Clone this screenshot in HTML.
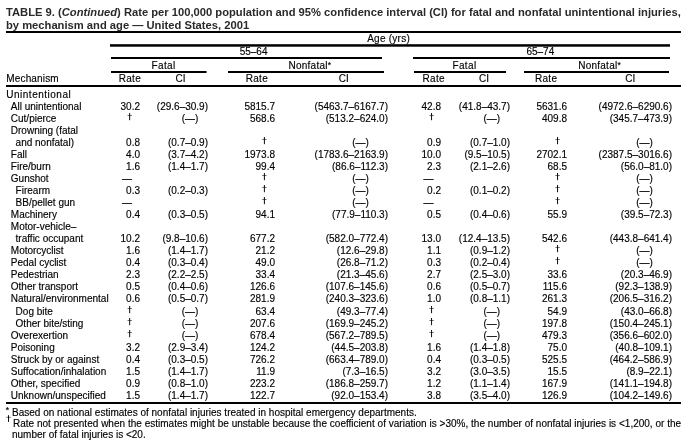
<!DOCTYPE html>
<html><head><meta charset="utf-8"><style>
html,body{margin:0;padding:0;background:#fff;}
body{width:695px;height:442px;position:relative;overflow:hidden;font-family:"Liberation Sans",sans-serif;color:#000;}
.t{position:absolute;white-space:nowrap;-webkit-text-stroke:0.15px #000;}
.b{font-weight:bold;-webkit-text-stroke:0;color:#2a2a2a;}
svg{position:absolute;left:0;top:0;}
</style></head><body>
<svg width="695" height="442" viewBox="0 0 695 442"><g fill="#000"><rect x="6" y="31" width="675" height="2"/><rect x="110" y="44.2" width="560" height="2.5"/><rect x="111" y="57" width="271" height="2"/><rect x="413" y="57" width="257" height="2"/><rect x="111" y="71" width="95.6" height="2"/><rect x="228" y="71" width="156" height="2"/><rect x="414" y="71" width="92" height="2"/><rect x="524" y="71" width="145" height="2"/><rect x="6" y="85" width="675" height="2"/><rect x="6" y="402" width="675" height="2"/><rect x="129.20" y="113.00" width="0.95" height="7.20"/><rect x="127.50" y="115.00" width="4.40" height="1" fill-opacity="0.55"/><rect x="431.10" y="113.00" width="0.95" height="7.20"/><rect x="429.40" y="115.00" width="4.40" height="1" fill-opacity="0.55"/><rect x="263.90" y="137.00" width="0.95" height="7.20"/><rect x="262.20" y="139.00" width="4.40" height="1" fill-opacity="0.55"/><rect x="557.10" y="137.00" width="0.95" height="7.20"/><rect x="555.40" y="139.00" width="4.40" height="1" fill-opacity="0.55"/><rect x="263.90" y="173.00" width="0.95" height="7.20"/><rect x="262.20" y="175.00" width="4.40" height="1" fill-opacity="0.55"/><rect x="557.10" y="173.00" width="0.95" height="7.20"/><rect x="555.40" y="175.00" width="4.40" height="1" fill-opacity="0.55"/><rect x="263.90" y="185.00" width="0.95" height="7.20"/><rect x="262.20" y="187.00" width="4.40" height="1" fill-opacity="0.55"/><rect x="557.10" y="185.00" width="0.95" height="7.20"/><rect x="555.40" y="187.00" width="4.40" height="1" fill-opacity="0.55"/><rect x="263.90" y="197.00" width="0.95" height="7.20"/><rect x="262.20" y="199.00" width="4.40" height="1" fill-opacity="0.55"/><rect x="557.10" y="197.00" width="0.95" height="7.20"/><rect x="555.40" y="199.00" width="4.40" height="1" fill-opacity="0.55"/><rect x="557.10" y="245.00" width="0.95" height="7.20"/><rect x="555.40" y="247.00" width="4.40" height="1" fill-opacity="0.55"/><rect x="557.10" y="257.00" width="0.95" height="7.20"/><rect x="555.40" y="259.00" width="4.40" height="1" fill-opacity="0.55"/><rect x="129.20" y="306.00" width="0.95" height="7.20"/><rect x="127.50" y="308.00" width="4.40" height="1" fill-opacity="0.55"/><rect x="431.10" y="306.00" width="0.95" height="7.20"/><rect x="429.40" y="308.00" width="4.40" height="1" fill-opacity="0.55"/><rect x="129.20" y="318.00" width="0.95" height="7.20"/><rect x="127.50" y="320.00" width="4.40" height="1" fill-opacity="0.55"/><rect x="431.10" y="318.00" width="0.95" height="7.20"/><rect x="429.40" y="320.00" width="4.40" height="1" fill-opacity="0.55"/><rect x="129.20" y="330.00" width="0.95" height="7.20"/><rect x="127.50" y="332.00" width="4.40" height="1" fill-opacity="0.55"/><rect x="431.10" y="330.00" width="0.95" height="7.20"/><rect x="429.40" y="332.00" width="4.40" height="1" fill-opacity="0.55"/><rect x="8.00" y="415.20" width="0.95" height="6.70"/><rect x="6.20" y="416.80" width="4.60" height="1" fill-opacity="0.55"/></g></svg>
<div id="L" style="position:absolute;left:0;top:0;width:695px;height:442px;will-change:transform">
<div class="t b" style="left:6px;top:6.52px;font-size:11.2px;line-height:11.2px">TABLE 9. (<i>Continued</i>) Rate per 100,000 population and 95% confidence interval (CI) for fatal and nonfatal unintentional injuries,</div>
<div class="t b" style="left:6px;top:19.52px;font-size:11.2px;line-height:11.2px">by mechanism and age — United States, 2001</div>
<div class="t" style="left:388.60px;transform:translateX(-50%);top:33.53px;font-size:10px;line-height:10px;letter-spacing:0.25px;">Age (yrs)</div>
<div class="t" style="left:253.60px;transform:translateX(-50%);top:46.53px;font-size:10px;line-height:10px;">55–64</div>
<div class="t" style="left:540.30px;transform:translateX(-50%);top:46.53px;font-size:10px;line-height:10px;">65–74</div>
<div class="t" style="left:163.60px;transform:translateX(-50%);top:60.53px;font-size:10px;line-height:10px;letter-spacing:0.4px;">Fatal</div>
<div class="t" style="left:309.90px;transform:translateX(-50%);top:60.53px;font-size:10px;line-height:10px;letter-spacing:0.25px;">Nonfatal<span style="font-size:8.5px;position:relative;top:-1px">*</span></div>
<div class="t" style="left:464.50px;transform:translateX(-50%);top:60.53px;font-size:10px;line-height:10px;letter-spacing:0.4px;">Fatal</div>
<div class="t" style="left:599.60px;transform:translateX(-50%);top:60.53px;font-size:10px;line-height:10px;letter-spacing:0.25px;">Nonfatal<span style="font-size:8.5px;position:relative;top:-1px">*</span></div>
<div class="t" style="left:6.30px;top:73.53px;font-size:10px;line-height:10px;letter-spacing:0.15px;">Mechanism</div>
<div class="t" style="left:129.90px;transform:translateX(-50%);top:73.53px;font-size:10px;line-height:10px;letter-spacing:0.3px;">Rate</div>
<div class="t" style="left:180.60px;transform:translateX(-50%);top:73.53px;font-size:10px;line-height:10px;">CI</div>
<div class="t" style="left:256.90px;transform:translateX(-50%);top:73.53px;font-size:10px;line-height:10px;letter-spacing:0.3px;">Rate</div>
<div class="t" style="left:343.80px;transform:translateX(-50%);top:73.53px;font-size:10px;line-height:10px;">CI</div>
<div class="t" style="left:433.70px;transform:translateX(-50%);top:73.53px;font-size:10px;line-height:10px;letter-spacing:0.3px;">Rate</div>
<div class="t" style="left:484.00px;transform:translateX(-50%);top:73.53px;font-size:10px;line-height:10px;">CI</div>
<div class="t" style="left:546.10px;transform:translateX(-50%);top:73.53px;font-size:10px;line-height:10px;letter-spacing:0.3px;">Rate</div>
<div class="t" style="left:630.20px;transform:translateX(-50%);top:73.53px;font-size:10px;line-height:10px;">CI</div>
<div class="t" style="left:6.30px;top:89.83px;font-size:10px;line-height:10px;letter-spacing:0.5px;">Unintentional</div>
<div class="t" style="left:10.80px;top:101.83px;font-size:10px;line-height:10px;">All unintentional</div>
<div class="t" style="right:555.00px;top:101.83px;font-size:10px;line-height:10px;">30.2</div>
<div class="t" style="right:487.00px;top:101.83px;font-size:10px;line-height:10px;">(29.6–30.9)</div>
<div class="t" style="right:420.00px;top:101.83px;font-size:10px;line-height:10px;">5815.7</div>
<div class="t" style="right:307.00px;top:101.83px;font-size:10px;line-height:10px;">(5463.7–6167.7)</div>
<div class="t" style="right:254.00px;top:101.83px;font-size:10px;line-height:10px;">42.8</div>
<div class="t" style="right:185.00px;top:101.83px;font-size:10px;line-height:10px;">(41.8–43.7)</div>
<div class="t" style="right:128.00px;top:101.83px;font-size:10px;line-height:10px;">5631.6</div>
<div class="t" style="right:23.00px;top:101.83px;font-size:10px;line-height:10px;">(4972.6–6290.6)</div>
<div class="t" style="left:10.80px;top:113.83px;font-size:10px;line-height:10px;">Cut/pierce</div>
<div class="t" style="left:190.00px;transform:translateX(-50%);top:113.83px;font-size:10px;line-height:10px;">(—)</div>
<div class="t" style="right:420.00px;top:113.83px;font-size:10px;line-height:10px;">568.6</div>
<div class="t" style="right:307.00px;top:113.83px;font-size:10px;line-height:10px;">(513.2–624.0)</div>
<div class="t" style="left:491.80px;transform:translateX(-50%);top:113.83px;font-size:10px;line-height:10px;">(—)</div>
<div class="t" style="right:128.00px;top:113.83px;font-size:10px;line-height:10px;">409.8</div>
<div class="t" style="right:23.00px;top:113.83px;font-size:10px;line-height:10px;">(345.7–473.9)</div>
<div class="t" style="left:10.80px;top:125.84px;font-size:10px;line-height:10px;">Drowning (fatal</div>
<div class="t" style="left:15.60px;top:137.84px;font-size:10px;line-height:10px;">and nonfatal)</div>
<div class="t" style="right:555.00px;top:137.84px;font-size:10px;line-height:10px;">0.8</div>
<div class="t" style="right:487.00px;top:137.84px;font-size:10px;line-height:10px;">(0.7–0.9)</div>
<div class="t" style="left:360.50px;transform:translateX(-50%);top:137.84px;font-size:10px;line-height:10px;">(—)</div>
<div class="t" style="right:254.00px;top:137.84px;font-size:10px;line-height:10px;">0.9</div>
<div class="t" style="right:185.00px;top:137.84px;font-size:10px;line-height:10px;">(0.7–1.0)</div>
<div class="t" style="left:644.50px;transform:translateX(-50%);top:137.84px;font-size:10px;line-height:10px;">(—)</div>
<div class="t" style="left:10.80px;top:149.84px;font-size:10px;line-height:10px;">Fall</div>
<div class="t" style="right:555.00px;top:149.84px;font-size:10px;line-height:10px;">4.0</div>
<div class="t" style="right:487.00px;top:149.84px;font-size:10px;line-height:10px;">(3.7–4.2)</div>
<div class="t" style="right:420.00px;top:149.84px;font-size:10px;line-height:10px;">1973.8</div>
<div class="t" style="right:307.00px;top:149.84px;font-size:10px;line-height:10px;">(1783.6–2163.9)</div>
<div class="t" style="right:254.00px;top:149.84px;font-size:10px;line-height:10px;">10.0</div>
<div class="t" style="right:185.00px;top:149.84px;font-size:10px;line-height:10px;">(9.5–10.5)</div>
<div class="t" style="right:128.00px;top:149.84px;font-size:10px;line-height:10px;">2702.1</div>
<div class="t" style="right:23.00px;top:149.84px;font-size:10px;line-height:10px;">(2387.5–3016.6)</div>
<div class="t" style="left:10.80px;top:161.84px;font-size:10px;line-height:10px;">Fire/burn</div>
<div class="t" style="right:555.00px;top:161.84px;font-size:10px;line-height:10px;">1.6</div>
<div class="t" style="right:487.00px;top:161.84px;font-size:10px;line-height:10px;">(1.4–1.7)</div>
<div class="t" style="right:420.00px;top:161.84px;font-size:10px;line-height:10px;">99.4</div>
<div class="t" style="right:307.00px;top:161.84px;font-size:10px;line-height:10px;">(86.6–112.3)</div>
<div class="t" style="right:254.00px;top:161.84px;font-size:10px;line-height:10px;">2.3</div>
<div class="t" style="right:185.00px;top:161.84px;font-size:10px;line-height:10px;">(2.1–2.6)</div>
<div class="t" style="right:128.00px;top:161.84px;font-size:10px;line-height:10px;">68.5</div>
<div class="t" style="right:23.00px;top:161.84px;font-size:10px;line-height:10px;">(56.0–81.0)</div>
<div class="t" style="left:10.80px;top:173.84px;font-size:10px;line-height:10px;">Gunshot</div>
<div class="t" style="left:127.00px;transform:translateX(-50%);top:173.84px;font-size:10px;line-height:10px;">—</div>
<div class="t" style="left:360.50px;transform:translateX(-50%);top:173.84px;font-size:10px;line-height:10px;">(—)</div>
<div class="t" style="left:428.50px;transform:translateX(-50%);top:173.84px;font-size:10px;line-height:10px;">—</div>
<div class="t" style="left:644.50px;transform:translateX(-50%);top:173.84px;font-size:10px;line-height:10px;">(—)</div>
<div class="t" style="left:15.60px;top:185.84px;font-size:10px;line-height:10px;">Firearm</div>
<div class="t" style="right:555.00px;top:185.84px;font-size:10px;line-height:10px;">0.3</div>
<div class="t" style="right:487.00px;top:185.84px;font-size:10px;line-height:10px;">(0.2–0.3)</div>
<div class="t" style="left:360.50px;transform:translateX(-50%);top:185.84px;font-size:10px;line-height:10px;">(—)</div>
<div class="t" style="right:254.00px;top:185.84px;font-size:10px;line-height:10px;">0.2</div>
<div class="t" style="right:185.00px;top:185.84px;font-size:10px;line-height:10px;">(0.1–0.2)</div>
<div class="t" style="left:644.50px;transform:translateX(-50%);top:185.84px;font-size:10px;line-height:10px;">(—)</div>
<div class="t" style="left:15.60px;top:197.84px;font-size:10px;line-height:10px;">BB/pellet gun</div>
<div class="t" style="left:127.00px;transform:translateX(-50%);top:197.84px;font-size:10px;line-height:10px;">—</div>
<div class="t" style="left:360.50px;transform:translateX(-50%);top:197.84px;font-size:10px;line-height:10px;">(—)</div>
<div class="t" style="left:428.50px;transform:translateX(-50%);top:197.84px;font-size:10px;line-height:10px;">—</div>
<div class="t" style="left:644.50px;transform:translateX(-50%);top:197.84px;font-size:10px;line-height:10px;">(—)</div>
<div class="t" style="left:10.80px;top:209.84px;font-size:10px;line-height:10px;">Machinery</div>
<div class="t" style="right:555.00px;top:209.84px;font-size:10px;line-height:10px;">0.4</div>
<div class="t" style="right:487.00px;top:209.84px;font-size:10px;line-height:10px;">(0.3–0.5)</div>
<div class="t" style="right:420.00px;top:209.84px;font-size:10px;line-height:10px;">94.1</div>
<div class="t" style="right:307.00px;top:209.84px;font-size:10px;line-height:10px;">(77.9–110.3)</div>
<div class="t" style="right:254.00px;top:209.84px;font-size:10px;line-height:10px;">0.5</div>
<div class="t" style="right:185.00px;top:209.84px;font-size:10px;line-height:10px;">(0.4–0.6)</div>
<div class="t" style="right:128.00px;top:209.84px;font-size:10px;line-height:10px;">55.9</div>
<div class="t" style="right:23.00px;top:209.84px;font-size:10px;line-height:10px;">(39.5–72.3)</div>
<div class="t" style="left:10.80px;top:221.84px;font-size:10px;line-height:10px;">Motor-vehicle–</div>
<div class="t" style="left:15.60px;top:233.84px;font-size:10px;line-height:10px;">traffic occupant</div>
<div class="t" style="right:555.00px;top:233.84px;font-size:10px;line-height:10px;">10.2</div>
<div class="t" style="right:487.00px;top:233.84px;font-size:10px;line-height:10px;">(9.8–10.6)</div>
<div class="t" style="right:420.00px;top:233.84px;font-size:10px;line-height:10px;">677.2</div>
<div class="t" style="right:307.00px;top:233.84px;font-size:10px;line-height:10px;">(582.0–772.4)</div>
<div class="t" style="right:254.00px;top:233.84px;font-size:10px;line-height:10px;">13.0</div>
<div class="t" style="right:185.00px;top:233.84px;font-size:10px;line-height:10px;">(12.4–13.5)</div>
<div class="t" style="right:128.00px;top:233.84px;font-size:10px;line-height:10px;">542.6</div>
<div class="t" style="right:23.00px;top:233.84px;font-size:10px;line-height:10px;">(443.8–641.4)</div>
<div class="t" style="left:10.80px;top:245.84px;font-size:10px;line-height:10px;">Motorcyclist</div>
<div class="t" style="right:555.00px;top:245.84px;font-size:10px;line-height:10px;">1.6</div>
<div class="t" style="right:487.00px;top:245.84px;font-size:10px;line-height:10px;">(1.4–1.7)</div>
<div class="t" style="right:420.00px;top:245.84px;font-size:10px;line-height:10px;">21.2</div>
<div class="t" style="right:307.00px;top:245.84px;font-size:10px;line-height:10px;">(12.6–29.8)</div>
<div class="t" style="right:254.00px;top:245.84px;font-size:10px;line-height:10px;">1.1</div>
<div class="t" style="right:185.00px;top:245.84px;font-size:10px;line-height:10px;">(0.9–1.2)</div>
<div class="t" style="left:644.50px;transform:translateX(-50%);top:245.84px;font-size:10px;line-height:10px;">(—)</div>
<div class="t" style="left:10.80px;top:257.84px;font-size:10px;line-height:10px;">Pedal cyclist</div>
<div class="t" style="right:555.00px;top:257.84px;font-size:10px;line-height:10px;">0.4</div>
<div class="t" style="right:487.00px;top:257.84px;font-size:10px;line-height:10px;">(0.3–0.4)</div>
<div class="t" style="right:420.00px;top:257.84px;font-size:10px;line-height:10px;">49.0</div>
<div class="t" style="right:307.00px;top:257.84px;font-size:10px;line-height:10px;">(26.8–71.2)</div>
<div class="t" style="right:254.00px;top:257.84px;font-size:10px;line-height:10px;">0.3</div>
<div class="t" style="right:185.00px;top:257.84px;font-size:10px;line-height:10px;">(0.2–0.4)</div>
<div class="t" style="left:644.50px;transform:translateX(-50%);top:257.84px;font-size:10px;line-height:10px;">(—)</div>
<div class="t" style="left:10.80px;top:269.84px;font-size:10px;line-height:10px;">Pedestrian</div>
<div class="t" style="right:555.00px;top:269.84px;font-size:10px;line-height:10px;">2.3</div>
<div class="t" style="right:487.00px;top:269.84px;font-size:10px;line-height:10px;">(2.2–2.5)</div>
<div class="t" style="right:420.00px;top:269.84px;font-size:10px;line-height:10px;">33.4</div>
<div class="t" style="right:307.00px;top:269.84px;font-size:10px;line-height:10px;">(21.3–45.6)</div>
<div class="t" style="right:254.00px;top:269.84px;font-size:10px;line-height:10px;">2.7</div>
<div class="t" style="right:185.00px;top:269.84px;font-size:10px;line-height:10px;">(2.5–3.0)</div>
<div class="t" style="right:128.00px;top:269.84px;font-size:10px;line-height:10px;">33.6</div>
<div class="t" style="right:23.00px;top:269.84px;font-size:10px;line-height:10px;">(20.3–46.9)</div>
<div class="t" style="left:10.80px;top:281.84px;font-size:10px;line-height:10px;">Other transport</div>
<div class="t" style="right:555.00px;top:281.84px;font-size:10px;line-height:10px;">0.5</div>
<div class="t" style="right:487.00px;top:281.84px;font-size:10px;line-height:10px;">(0.4–0.6)</div>
<div class="t" style="right:420.00px;top:281.84px;font-size:10px;line-height:10px;">126.6</div>
<div class="t" style="right:307.00px;top:281.84px;font-size:10px;line-height:10px;">(107.6–145.6)</div>
<div class="t" style="right:254.00px;top:281.84px;font-size:10px;line-height:10px;">0.6</div>
<div class="t" style="right:185.00px;top:281.84px;font-size:10px;line-height:10px;">(0.5–0.7)</div>
<div class="t" style="right:128.00px;top:281.84px;font-size:10px;line-height:10px;">115.6</div>
<div class="t" style="right:23.00px;top:281.84px;font-size:10px;line-height:10px;">(92.3–138.9)</div>
<div class="t" style="left:10.80px;top:293.84px;font-size:10px;line-height:10px;">Natural/environmental</div>
<div class="t" style="right:555.00px;top:293.84px;font-size:10px;line-height:10px;">0.6</div>
<div class="t" style="right:487.00px;top:293.84px;font-size:10px;line-height:10px;">(0.5–0.7)</div>
<div class="t" style="right:420.00px;top:293.84px;font-size:10px;line-height:10px;">281.9</div>
<div class="t" style="right:307.00px;top:293.84px;font-size:10px;line-height:10px;">(240.3–323.6)</div>
<div class="t" style="right:254.00px;top:293.84px;font-size:10px;line-height:10px;">1.0</div>
<div class="t" style="right:185.00px;top:293.84px;font-size:10px;line-height:10px;">(0.8–1.1)</div>
<div class="t" style="right:128.00px;top:293.84px;font-size:10px;line-height:10px;">261.3</div>
<div class="t" style="right:23.00px;top:293.84px;font-size:10px;line-height:10px;">(206.5–316.2)</div>
<div class="t" style="left:15.60px;top:306.84px;font-size:10px;line-height:10px;">Dog bite</div>
<div class="t" style="left:190.00px;transform:translateX(-50%);top:306.84px;font-size:10px;line-height:10px;">(—)</div>
<div class="t" style="right:420.00px;top:306.84px;font-size:10px;line-height:10px;">63.4</div>
<div class="t" style="right:307.00px;top:306.84px;font-size:10px;line-height:10px;">(49.3–77.4)</div>
<div class="t" style="left:491.80px;transform:translateX(-50%);top:306.84px;font-size:10px;line-height:10px;">(—)</div>
<div class="t" style="right:128.00px;top:306.84px;font-size:10px;line-height:10px;">54.9</div>
<div class="t" style="right:23.00px;top:306.84px;font-size:10px;line-height:10px;">(43.0–66.8)</div>
<div class="t" style="left:15.60px;top:318.84px;font-size:10px;line-height:10px;">Other bite/sting</div>
<div class="t" style="left:190.00px;transform:translateX(-50%);top:318.84px;font-size:10px;line-height:10px;">(—)</div>
<div class="t" style="right:420.00px;top:318.84px;font-size:10px;line-height:10px;">207.6</div>
<div class="t" style="right:307.00px;top:318.84px;font-size:10px;line-height:10px;">(169.9–245.2)</div>
<div class="t" style="left:491.80px;transform:translateX(-50%);top:318.84px;font-size:10px;line-height:10px;">(—)</div>
<div class="t" style="right:128.00px;top:318.84px;font-size:10px;line-height:10px;">197.8</div>
<div class="t" style="right:23.00px;top:318.84px;font-size:10px;line-height:10px;">(150.4–245.1)</div>
<div class="t" style="left:10.80px;top:330.84px;font-size:10px;line-height:10px;">Overexertion</div>
<div class="t" style="left:190.00px;transform:translateX(-50%);top:330.84px;font-size:10px;line-height:10px;">(—)</div>
<div class="t" style="right:420.00px;top:330.84px;font-size:10px;line-height:10px;">678.4</div>
<div class="t" style="right:307.00px;top:330.84px;font-size:10px;line-height:10px;">(567.2–789.5)</div>
<div class="t" style="left:491.80px;transform:translateX(-50%);top:330.84px;font-size:10px;line-height:10px;">(—)</div>
<div class="t" style="right:128.00px;top:330.84px;font-size:10px;line-height:10px;">479.3</div>
<div class="t" style="right:23.00px;top:330.84px;font-size:10px;line-height:10px;">(356.6–602.0)</div>
<div class="t" style="left:10.80px;top:342.84px;font-size:10px;line-height:10px;">Poisoning</div>
<div class="t" style="right:555.00px;top:342.84px;font-size:10px;line-height:10px;">3.2</div>
<div class="t" style="right:487.00px;top:342.84px;font-size:10px;line-height:10px;">(2.9–3.4)</div>
<div class="t" style="right:420.00px;top:342.84px;font-size:10px;line-height:10px;">124.2</div>
<div class="t" style="right:307.00px;top:342.84px;font-size:10px;line-height:10px;">(44.5–203.8)</div>
<div class="t" style="right:254.00px;top:342.84px;font-size:10px;line-height:10px;">1.6</div>
<div class="t" style="right:185.00px;top:342.84px;font-size:10px;line-height:10px;">(1.4–1.8)</div>
<div class="t" style="right:128.00px;top:342.84px;font-size:10px;line-height:10px;">75.0</div>
<div class="t" style="right:23.00px;top:342.84px;font-size:10px;line-height:10px;">(40.8–109.1)</div>
<div class="t" style="left:10.80px;top:354.84px;font-size:10px;line-height:10px;">Struck by or against</div>
<div class="t" style="right:555.00px;top:354.84px;font-size:10px;line-height:10px;">0.4</div>
<div class="t" style="right:487.00px;top:354.84px;font-size:10px;line-height:10px;">(0.3–0.5)</div>
<div class="t" style="right:420.00px;top:354.84px;font-size:10px;line-height:10px;">726.2</div>
<div class="t" style="right:307.00px;top:354.84px;font-size:10px;line-height:10px;">(663.4–789.0)</div>
<div class="t" style="right:254.00px;top:354.84px;font-size:10px;line-height:10px;">0.4</div>
<div class="t" style="right:185.00px;top:354.84px;font-size:10px;line-height:10px;">(0.3–0.5)</div>
<div class="t" style="right:128.00px;top:354.84px;font-size:10px;line-height:10px;">525.5</div>
<div class="t" style="right:23.00px;top:354.84px;font-size:10px;line-height:10px;">(464.2–586.9)</div>
<div class="t" style="left:10.80px;top:366.84px;font-size:10px;line-height:10px;">Suffocation/inhalation</div>
<div class="t" style="right:555.00px;top:366.84px;font-size:10px;line-height:10px;">1.5</div>
<div class="t" style="right:487.00px;top:366.84px;font-size:10px;line-height:10px;">(1.4–1.7)</div>
<div class="t" style="right:420.00px;top:366.84px;font-size:10px;line-height:10px;">11.9</div>
<div class="t" style="right:307.00px;top:366.84px;font-size:10px;line-height:10px;">(7.3–16.5)</div>
<div class="t" style="right:254.00px;top:366.84px;font-size:10px;line-height:10px;">3.2</div>
<div class="t" style="right:185.00px;top:366.84px;font-size:10px;line-height:10px;">(3.0–3.5)</div>
<div class="t" style="right:128.00px;top:366.84px;font-size:10px;line-height:10px;">15.5</div>
<div class="t" style="right:23.00px;top:366.84px;font-size:10px;line-height:10px;">(8.9–22.1)</div>
<div class="t" style="left:10.80px;top:378.84px;font-size:10px;line-height:10px;">Other, specified</div>
<div class="t" style="right:555.00px;top:378.84px;font-size:10px;line-height:10px;">0.9</div>
<div class="t" style="right:487.00px;top:378.84px;font-size:10px;line-height:10px;">(0.8–1.0)</div>
<div class="t" style="right:420.00px;top:378.84px;font-size:10px;line-height:10px;">223.2</div>
<div class="t" style="right:307.00px;top:378.84px;font-size:10px;line-height:10px;">(186.8–259.7)</div>
<div class="t" style="right:254.00px;top:378.84px;font-size:10px;line-height:10px;">1.2</div>
<div class="t" style="right:185.00px;top:378.84px;font-size:10px;line-height:10px;">(1.1–1.4)</div>
<div class="t" style="right:128.00px;top:378.84px;font-size:10px;line-height:10px;">167.9</div>
<div class="t" style="right:23.00px;top:378.84px;font-size:10px;line-height:10px;">(141.1–194.8)</div>
<div class="t" style="left:10.80px;top:390.84px;font-size:10px;line-height:10px;">Unknown/unspecified</div>
<div class="t" style="right:555.00px;top:390.84px;font-size:10px;line-height:10px;">1.5</div>
<div class="t" style="right:487.00px;top:390.84px;font-size:10px;line-height:10px;">(1.4–1.7)</div>
<div class="t" style="right:420.00px;top:390.84px;font-size:10px;line-height:10px;">122.7</div>
<div class="t" style="right:307.00px;top:390.84px;font-size:10px;line-height:10px;">(92.0–153.4)</div>
<div class="t" style="right:254.00px;top:390.84px;font-size:10px;line-height:10px;">3.8</div>
<div class="t" style="right:185.00px;top:390.84px;font-size:10px;line-height:10px;">(3.5–4.0)</div>
<div class="t" style="right:128.00px;top:390.84px;font-size:10px;line-height:10px;">126.9</div>
<div class="t" style="right:23.00px;top:390.84px;font-size:10px;line-height:10px;">(104.2–149.6)</div>
<div class="t" style="left:5.80px;top:406.32px;font-size:8.6px;line-height:8.6px;">*</div>
<div class="t" style="left:12.00px;top:407.94px;font-size:10px;line-height:10px;">Based on national estimates of nonfatal injuries treated in hospital emergency departments.</div>
<div class="t" style="left:13.00px;top:418.94px;font-size:10px;line-height:10px;word-spacing:0.1px;">Rate not presented when the estimates might be unstable because the coefficient of variation is &gt;30%, the number of nonfatal injuries is &lt;1,200, or the</div>
<div class="t" style="left:12.00px;top:429.94px;font-size:10px;line-height:10px;">number of fatal injuries is &lt;20.</div>
</div>
</body></html>
